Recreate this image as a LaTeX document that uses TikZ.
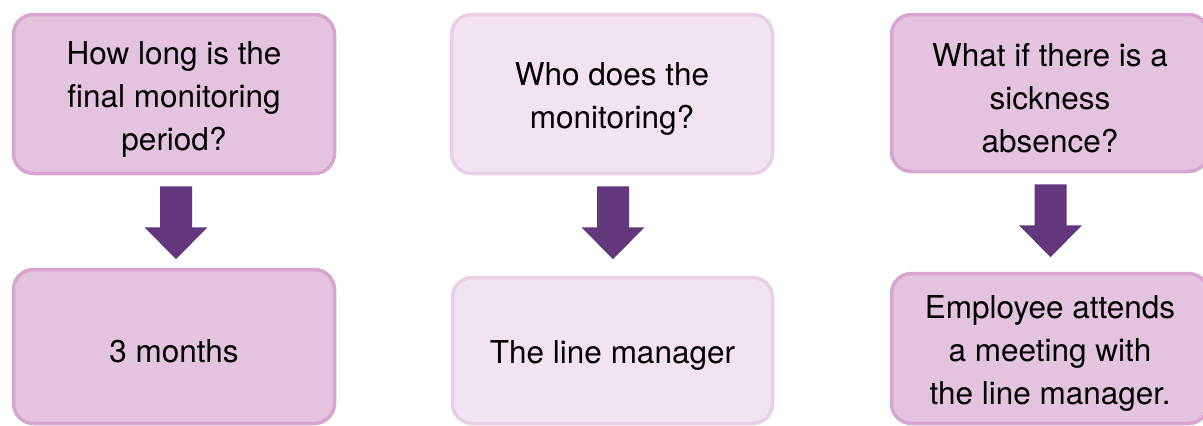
\documentclass[tikz,border=0pt]{standalone}
\usepackage{fontspec}
\setmainfont{TeX Gyre Heros}
\usetikzlibrary{calc}
\definecolor{fillA}{RGB}{228,195,223}
\definecolor{lineA}{RGB}{215,165,207}
\definecolor{fillB}{RGB}{242,227,240}
\definecolor{lineB}{RGB}{233,207,229}
\definecolor{arr}{RGB}{98,55,123}
\newcommand\blkarrow[2]{%
  \fill[arr] ($(#1.south)+(#2-16,11)$) -- ($(#1.south)+(#2+16,11)$) -- ($(#1.south)+(#2+16,52)$) -- ($(#1.south)+(#2+31.5,52)$) -- ($(#1.south)+(#2,84)$) -- ($(#1.south)+(#2-31.5,52)$) -- ($(#1.south)+(#2-16,52)$) -- cycle;}
\tikzset{
  box/.style={rounded corners=20pt, line width=3.5pt, inner sep=0pt},
  dark/.style={box, fill=fillA, draw=lineA},
  light/.style={box, fill=fillB, draw=lineB},
  txt/.style={align=center, inner sep=0pt, yshift=-5pt,
    font=\fontsize{31.5}{43}\selectfont},
}
\begin{document}
\begin{tikzpicture}[x=1pt,y=-1pt]
\useasboundingbox (0,0) rectangle (1203,426);
\clip (0,0) rectangle (1203,426);
\node[dark, minimum width=321pt, minimum height=159pt,
  label={[txt]center:{How long is the\\final monitoring\\period?}}] (a1) at (174,94) {};
\node[dark, minimum width=321pt, minimum height=154pt,
  label={[txt]center:{3 months}}] (a2) at (174,346.5) {};
\node[light, minimum width=321pt, minimum height=159pt,
  label={[txt]center:{Who does the\\monitoring?}}] (b1) at (612,94) {};
\node[light, minimum width=320pt, minimum height=146pt,
  label={[txt]center:{The line manager}}] (b2) at (612.5,350.5) {};
\node[dark, minimum width=317pt, minimum height=157pt,
  label={[txt]center:{What if there is a\\sickness\\absence?}}] (c1) at (1050,93) {};
\node[dark, minimum width=317pt, minimum height=150pt,
  label={[txt]center:{Employee attends\\a meeting with\\the line manager.}}] (c2) at (1050,348.5) {};
\blkarrow{a1}{2}
\blkarrow{b1}{1}
\blkarrow{c1}{0.5}
\end{tikzpicture}
\end{document}
